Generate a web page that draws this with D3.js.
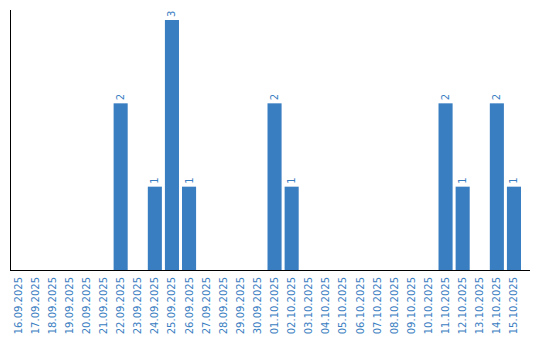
<!DOCTYPE html>
<html>
<head>
<meta charset="utf-8">
<script src="https://cdn.jsdelivr.net/npm/d3@7"></script>
<style>
  body { margin: 0; background: #fff; }
</style>
</head>
<body>
<div id="chart"></div>
<script>
// dates and counts
const dates = ["16.09.2025","17.09.2025","18.09.2025","19.09.2025","20.09.2025","21.09.2025",
  "22.09.2025","23.09.2025","24.09.2025","25.09.2025","26.09.2025","27.09.2025","28.09.2025",
  "29.09.2025","30.09.2025","01.10.2025","02.10.2025","03.10.2025","04.10.2025","05.10.2025",
  "06.10.2025","07.10.2025","08.10.2025","09.10.2025","10.10.2025","11.10.2025","12.10.2025",
  "13.10.2025","14.10.2025","15.10.2025"];
const counts = [0,0,0,0,0,0,2,0,1,3,1,0,0,0,0,2,1,0,0,0,0,0,0,0,0,2,1,0,2,1];

const width = 540, height = 340;
const blue = "#3a7ec2";
const font = "DejaVu Sans";

const svg = d3.select("#chart").append("svg")
    .attr("width", width)
    .attr("height", height);

// band scale, bars sit at start of each step
const x = d3.scaleBand()
    .domain(d3.range(dates.length))
    .range([11, 11 + 17 * dates.length])
    .paddingInner(3 / 17)
    .paddingOuter(0)
    .align(0);

const y = d3.scaleLinear()
    .domain([0, 3])
    .range([270, 20]);

svg.append("g")
    .selectAll("rect")
    .data(counts)
    .join("rect")
    .attr("x", (d, i) => x(i))
    .attr("y", d => y(d))
    .attr("width", x.bandwidth())
    .attr("height", d => y(0) - y(d))
    .attr("fill", blue);

// value labels
svg.append("g")
    .selectAll("text")
    .data(counts.map((v, i) => ({ v, i })).filter(d => d.v > 0))
    .join("text")
    .attr("transform", d => `translate(${x(d.i) + x.bandwidth() / 2 + 3.5},${y(d.v) - 3}) rotate(-90)`)
    .attr("font-family", font)
    .attr("font-size", "10px")
    .attr("fill", blue)
    .text(d => d.v);

// x labels
svg.append("g")
    .selectAll("text")
    .data(dates)
    .join("text")
    .attr("transform", (d, i) => `translate(${x(i) + x.bandwidth() / 2 + 3.5},277) rotate(-90)`)
    .attr("text-anchor", "end")
    .attr("font-family", font)
    .attr("font-size", "10px")
    .attr("fill", blue)
    .text(d => d);

// axes lines
svg.append("line")
    .attr("x1", 10.5).attr("x2", 10.5)
    .attr("y1", 10).attr("y2", 270)
    .attr("stroke", "#000");
svg.append("line")
    .attr("x1", 10).attr("x2", 530)
    .attr("y1", 270.5).attr("y2", 270.5)
    .attr("stroke", "#000");
</script>
</body>
</html>
